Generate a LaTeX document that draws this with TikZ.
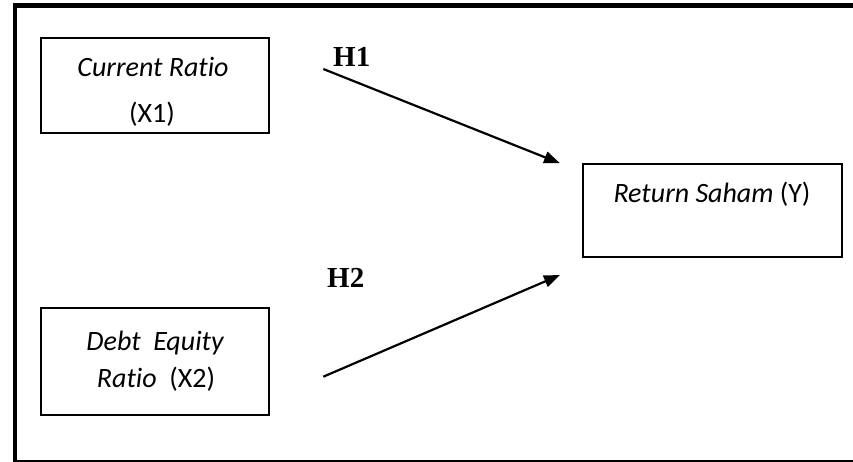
\documentclass[tikz,border=0pt]{standalone}
\usepackage{fontspec}
\setmainfont[Ligatures=NoCommon,RawFeature=-liga]{Carlito}
\newfontfamily\hfont{Liberation Serif}
\usetikzlibrary{arrows.meta}
\begin{document}
\begin{tikzpicture}[x=1pt,y=-1pt,
  varbox/.style={draw,line width=1.6pt,inner sep=0pt},
  boxtext/.style={anchor=base,inner sep=0pt,font=\fontsize{28}{33}\selectfont},
  hlabel/.style={anchor=base west,inner sep=0pt,font=\hfont\bfseries\fontsize{29}{33}\selectfont},
  hyp/.style={line width=2.2pt,-{Triangle[length=16pt,width=12pt]}}]
\useasboundingbox (0,0) rectangle (853,462);
% frame
\draw[line width=5pt] (13,5.8) -- (853,5.8);
\draw[line width=3.6pt] (15,3.3) -- (15,461);
\draw[line width=2pt] (13.2,461) -- (853,461);
% boxes
\node[varbox,minimum width=228pt,minimum height=95pt] (x1) at (155,85.5) {};
\node[varbox,minimum width=228pt,minimum height=107pt] (x2) at (155,361.5) {};
\node[varbox,minimum width=259pt,minimum height=93pt] (y) at (712.5,210.5) {};
% texts
\node[boxtext] (x1a) at (153,77) {\itshape Current Ratio};
\node[boxtext] (x1b) at (152,123) {(X1)};
\node[boxtext] (x2a) at (155,350) {\itshape Debt\ \ Equity};
\node[boxtext] (x2b) at (156,387) {{\itshape Ratio}\ \ (X2)};
\node[boxtext] (ya) at (712,203) {{\itshape Return Saham} (Y)};
% hypotheses
\node[hlabel] (h1) at (333,66.7) {H1};
\node[hlabel] (h2) at (327,287.7) {H2};
\coordinate (h1s) at (323.3,69);
\coordinate (h1e) at (560,163.3);
\coordinate (h2s) at (323.3,376.7);
\coordinate (h2e) at (560,275);
\draw[hyp] (h1s) -- (h1e);
\draw[hyp] (h2s) -- (h2e);
\end{tikzpicture}
\end{document}
